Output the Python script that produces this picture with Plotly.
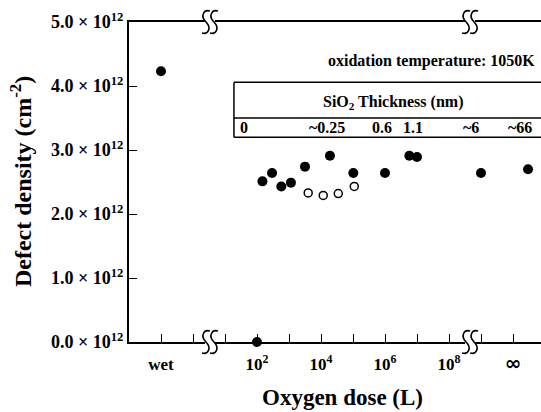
import plotly.graph_objects as go

# ---- data (x = axis position: log10 of oxygen dose; -1 = "wet", >8.5 = after axis break) ----
filled_pos = [-1.0, 2.0, 2.17, 2.47, 2.76, 3.06, 3.5, 4.28, 5.01, 6.0, 6.76, 7.0, 9.0, 10.47]
filled_density = [4.23, 0.0, 2.51, 2.64, 2.43, 2.49, 2.74, 2.91, 2.64, 2.64, 2.91, 2.89, 2.64, 2.70]  # x1e12 cm^-2
open_pos = [3.6, 4.07, 4.54, 5.04]
open_density = [2.33, 2.29, 2.32, 2.43]

x_tickvals = [-1, 0, 1, 2, 3, 4, 5, 6, 7, 8, 9, 10]
x_ticktext = ["wet", "", "", "10<sup>2</sup>", "", "10<sup>4</sup>", "", "10<sup>6</sup>", "",
              "10<sup>8</sup>", "", "<span style=\"font-family:DejaVu Sans;font-size:20px\">∞</span>"]
y_tickvals = [0, 1, 2, 3, 4, 5]
y_ticktext = ["%.1f × 10<sup>12</sup>" % v for v in y_tickvals]

thick_labels = ["0", "~0.25", "0.6", "1.1", "~6", "~66"]
thick_pos = [1.59, 4.19, 5.91, 6.875, 8.69, 10.22]

x_range = [-2, 10.875]
y_range = [0, 5]
breaks = [0.53, 8.66]

FONT = "Liberation Serif, Times New Roman, serif"

fig = go.Figure()
fig.add_trace(go.Scatter(x=filled_pos, y=filled_density, mode="markers",
                         marker=dict(size=10, color="black"), cliponaxis=False,
                         showlegend=False))
fig.add_trace(go.Scatter(x=open_pos, y=open_density, mode="markers",
                         marker=dict(size=8, color="white", line=dict(color="black", width=1.5)),
                         cliponaxis=False, showlegend=False))

shapes = []
# axis break symbols
for bx in breaks:
    for yp in (0, 1):
        shapes.append(dict(type="rect", xref="x", yref="paper", xsizemode="pixel", ysizemode="pixel",
                           xanchor=bx, yanchor=yp, x0=-5, x1=5, y0=-4, y1=4,
                           fillcolor="white", line=dict(width=0), layer="above"))
        for off in (-4, 4):
            path = "M {a},11 C {b},13 {c},6 {d},0 C {e},-6 {f},-13 {g},-11".format(
                a=off + 4, b=off - 2, c=off - 6, d=off, e=off + 6, f=off + 2, g=off - 4)
            shapes.append(dict(type="path", xref="x", yref="paper", xsizemode="pixel",
                               ysizemode="pixel", xanchor=bx, yanchor=yp, path=path,
                               line=dict(color="black", width=1.6), layer="above"))

# inset table lines
tbl_left, tbl_top, tbl_mid, tbl_bot = 1.28, 4.06, 3.5, 3.2
for yy in (tbl_top, tbl_mid, tbl_bot):
    shapes.append(dict(type="line", xref="x", yref="y", x0=tbl_left, x1=x_range[1], y0=yy, y1=yy,
                       line=dict(color="black", width=1.5)))
shapes.append(dict(type="line", xref="x", yref="y", x0=tbl_left, x1=tbl_left, y0=tbl_bot, y1=tbl_top,
                   line=dict(color="black", width=1.5)))

annotations = [
    dict(text="<b>oxidation temperature: 1050K</b>", xref="paper", yref="y", x=0.99, y=4.39,
         xanchor="right", yanchor="middle", showarrow=False, font=dict(size=16)),
    dict(text="<b>SiO<sub>2</sub> Thickness (nm)</b>", xref="x", yref="y", x=6.25, y=3.75,
         xanchor="center", yanchor="middle", showarrow=False, font=dict(size=16)),
    dict(text="<b>Oxygen dose (L)</b>", xref="paper", yref="paper", x=0.517, y=-0.172,
         xanchor="center", yanchor="middle", showarrow=False, font=dict(size=23)),
    dict(text="<b>Defect density (cm<sup>-2</sup>)</b>", xref="paper", yref="paper", x=-0.262, y=0.5,
         xanchor="center", yanchor="middle", textangle=-90, showarrow=False, font=dict(size=24)),
]
for lab, xp in zip(thick_labels, thick_pos):
    annotations.append(dict(text="<b>%s</b>" % lab, xref="x", yref="y", x=xp, y=3.355,
                            xanchor="center", yanchor="middle", showarrow=False, font=dict(size=16)))

fig.update_layout(
    width=541, height=412,
    margin=dict(l=129, r=0, t=22, b=70),
    paper_bgcolor="white", plot_bgcolor="white",
    font=dict(family=FONT, color="black"),
    shapes=shapes, annotations=annotations,
    xaxis=dict(range=x_range, tickvals=x_tickvals, ticktext=["<b>%s</b>" % t if t else "" for t in x_ticktext],
               ticks="inside", ticklen=8, tickwidth=1, tickcolor="black",
               showline=True, linewidth=2, linecolor="black", mirror=True,
               showgrid=False, zeroline=False, tickfont=dict(size=17), ticklabelstandoff=6),
    yaxis=dict(range=y_range, tickvals=y_tickvals, ticktext=["<b>%s</b>" % t for t in y_ticktext],
               ticks="inside", ticklen=8, tickwidth=1, tickcolor="black",
               showline=True, linewidth=2, linecolor="black",
               showgrid=False, zeroline=False, tickfont=dict(size=18)),
)

fig.write_html("out.html", config={"displayModeBar": False},
               post_script="document.body.style.margin='0';document.body.style.overflow='hidden';")
